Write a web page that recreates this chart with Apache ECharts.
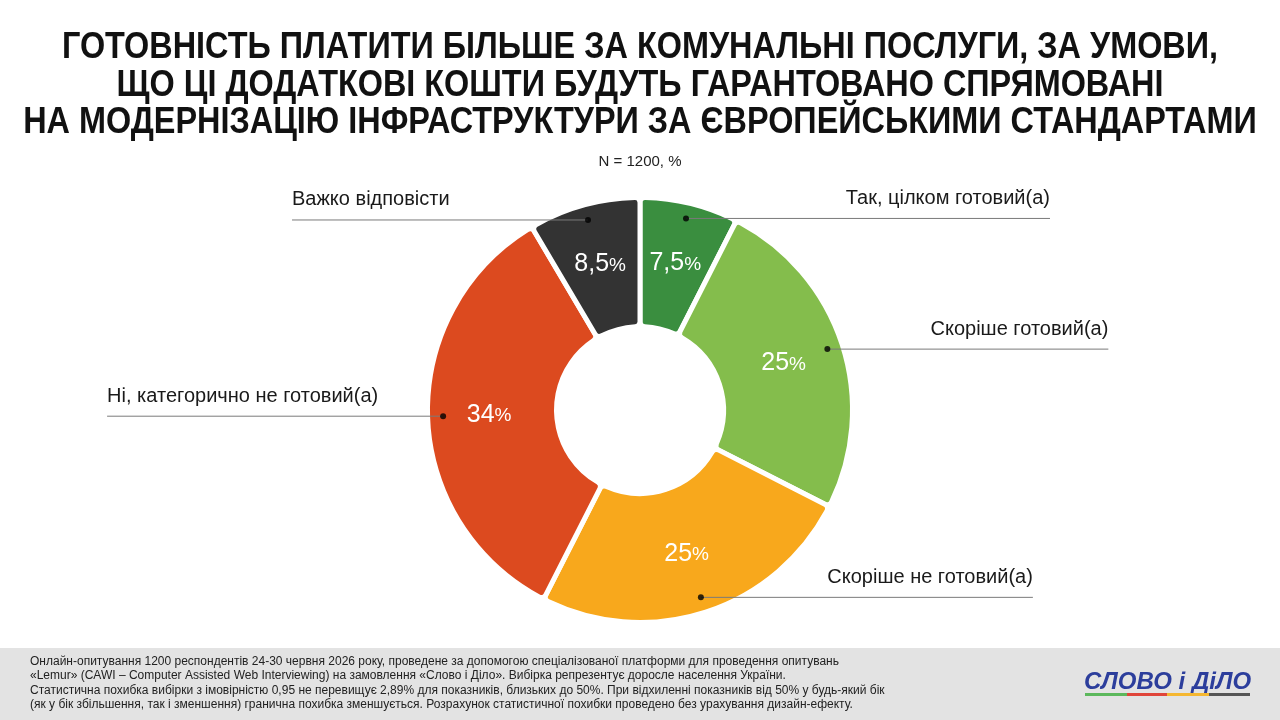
<!DOCTYPE html>
<html><head><meta charset="utf-8">
<script src="https://cdn.jsdelivr.net/npm/echarts@6/dist/echarts.min.js"></script>
<style>html,body{margin:0;padding:0;background:#fff}#c{width:1280px;height:720px}</style>
</head><body><div id="c"></div>
<script>
const categories = ['Так, цілком готовий(а)', 'Скоріше готовий(а)', 'Скоріше не готовий(а)', 'Ні, категорично не готовий(а)', 'Важко відповісти'];
const values = [7.5, 25, 25, 34, 8.5];
const titleLines = [
  'ГОТОВНІСТЬ ПЛАТИТИ БІЛЬШЕ ЗА КОМУНАЛЬНІ ПОСЛУГИ, ЗА УМОВИ,',
  'ЩО ЦІ ДОДАТКОВІ КОШТИ БУДУТЬ ГАРАНТОВАНО СПРЯМОВАНІ',
  'НА МОДЕРНІЗАЦІЮ ІНФРАСТРУКТУРИ ЗА ЄВРОПЕЙСЬКИМИ СТАНДАРТАМИ'
];
const subtitle = 'N = 1200, %';
const footnoteLines = [
  'Онлайн-опитування 1200 респондентів 24-30 червня 2026 року, проведене за допомогою спеціалізованої платформи для проведення опитувань',
  '«Lemur» (CAWI – Computer Assisted Web Interviewing) на замовлення «Слово і Діло». Вибірка репрезентує доросле населення України.',
  'Статистична похибка вибірки з імовірністю 0,95 не перевищує 2,89% для показників, близьких до 50%. При відхиленні показників від 50% у будь-який бік',
  '(як у бік збільшення, так і зменшення) гранична похибка зменшується. Розрахунок статистичної похибки проведено без урахування дизайн-ефекту.'
];
const logoText = 'СЛОВО і ДіЛО';

// styles
const colors = ['#3a8e3f', '#84bd4c', '#f8a81c', '#dc4a1f', '#333333'];
const leaderLength = [364, 281, 332, 336, 296];
const center = [640, 410];
const outerR = 210, innerR = 86, dotR = 197;
const sans = "'Liberation Sans', Arial, sans-serif";

const total = values.reduce((a, b) => a + b, 0);
let acc = 0;
const dotData = values.map(v => { const mid = acc + v / 2; acc += v; return [dotR, mid / total * 100]; });

const chart = echarts.init(document.getElementById('c'));
const pieData = categories.map((c, i) => ({ name: c, value: values[i], itemStyle: { color: colors[i] } }));

chart.setOption({
  backgroundColor: '#ffffff',
  animation: false,
  title: [
    { text: subtitle, left: 'center', top: 154, padding: 0,
      textStyle: { fontFamily: sans, fontWeight: 'normal', fontSize: 15, color: '#222' } }
  ],
  polar: { center: center, radius: [0, outerR] },
  angleAxis: { type: 'value', min: 0, max: 100, startAngle: 90, clockwise: true, show: false },
  radiusAxis: { type: 'value', min: 0, max: outerR, show: false },
  series: [
    {
      type: 'pie', center: center, radius: [innerR - 2.5, outerR + 2.5], startAngle: 90, clockwise: true,
      silent: true, avoidLabelOverlap: false,
      itemStyle: { borderColor: '#ffffff', borderWidth: 5, borderRadius: 5 },
      label: {
        position: 'inside',
        formatter: p => '{n|' + String(p.value).replace('.', ',') + '}{p|%}',
        rich: {
          n: { fontFamily: sans, fontSize: 25, color: '#ffffff' },
          p: { fontFamily: sans, fontSize: 19, color: '#ffffff', padding: [3, 0, 0, 0] }
        }
      },
      labelLine: { show: false },
      data: pieData
    },
    {
      type: 'pie', center: center, radius: [0, dotR], startAngle: 90, clockwise: true,
      silent: true, avoidLabelOverlap: false, z: 5,
      itemStyle: { color: 'rgba(0,0,0,0)' },
      label: { position: 'outside', formatter: '{b}', fontFamily: sans, fontSize: 20, color: '#1a1a1a' },
      labelLine: { show: true, length: 1, length2: 1, lineStyle: { color: '#7a7a7a', width: 1 } },
      labelLayout: function (params) {
        const pts = params.labelLinePoints;
        if (!pts) return {};
        const sx = pts[0][0], sy = pts[0][1];
        const isLeft = sx < center[0];
        const ex = isLeft ? sx - leaderLength[params.dataIndex] : sx + leaderLength[params.dataIndex];
        return {
          x: ex, y: sy - 10,
          align: isLeft ? 'left' : 'right',
          verticalAlign: 'bottom',
          labelLinePoints: [[sx, sy], [sx, sy], [ex, sy]]
        };
      },
      data: categories.map((c, i) => ({ name: c, value: values[i] }))
    },
    {
      type: 'scatter', coordinateSystem: 'polar', symbol: 'circle', symbolSize: 6, z: 10, silent: true,
      itemStyle: { color: '#000' },
      data: dotData
    }
  ],
  graphic: [
    { type: 'text', x: 640, y: 29.5, scaleX: 0.9, style: {
        text: titleLines.join('\n'), textAlign: 'center',
        font: "bold 36px 'Liberation Sans', Arial", lineHeight: 37.5, fill: '#111' } },
    { type: 'rect', left: 0, top: 648, shape: { width: 1280, height: 72 }, style: { fill: '#e3e3e3' }, z: -1 },
    { type: 'text', left: 30, top: 654, style: {
        text: footnoteLines.join('\n'), font: "12px 'Liberation Sans', Arial",
        lineHeight: 14.5, fill: '#222' } },
    { type: 'text', left: 1084, top: 670, style: {
        text: logoText, font: "italic bold 24px 'Liberation Sans', Arial", fill: '#2c3e9c' } },
    { type: 'rect', left: 1085, top: 693, shape: { width: 42, height: 3 }, style: { fill: '#5cb85c' } },
    { type: 'rect', left: 1127, top: 693, shape: { width: 40, height: 3 }, style: { fill: '#e0453a' } },
    { type: 'rect', left: 1167, top: 693, shape: { width: 42, height: 3 }, style: { fill: '#f5b731' } },
    { type: 'rect', left: 1209, top: 693, shape: { width: 41, height: 3 }, style: { fill: '#555' } }
  ]
});
</script>
</body></html>
